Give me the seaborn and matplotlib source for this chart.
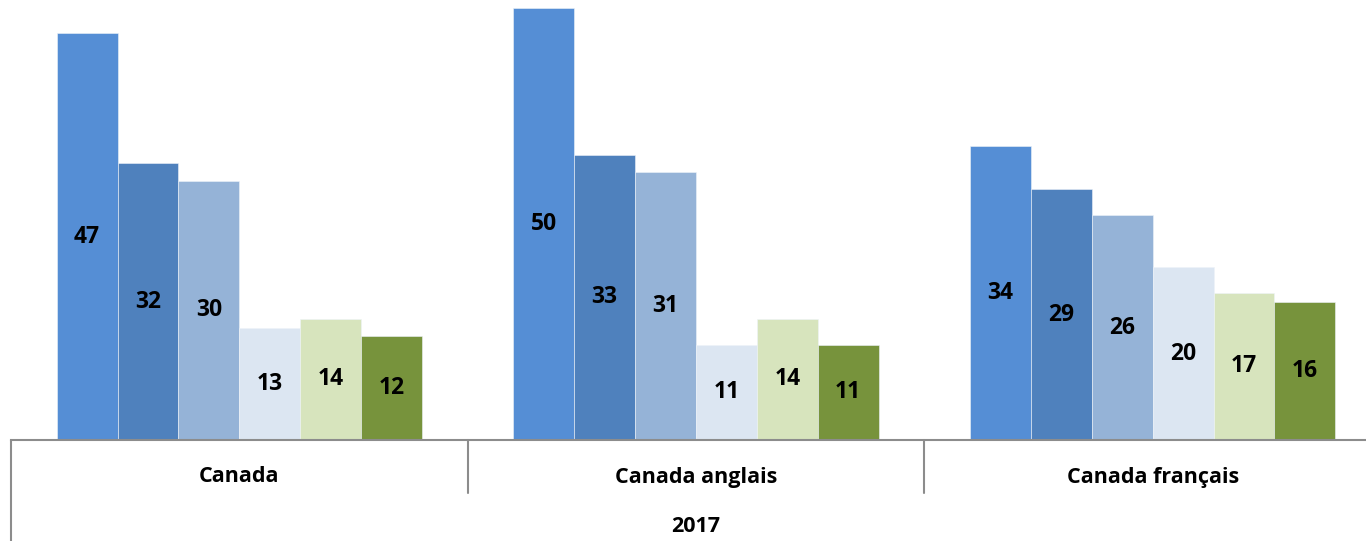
import pandas as pd
import numpy as np
import matplotlib.pyplot as plt
import seaborn as sns

# data
groups = ['Canada', 'Canada anglais', 'Canada français']
series = ['Série 1', 'Série 2', 'Série 3', 'Série 4', 'Série 5', 'Série 6']
canada = [47, 32, 30, 13, 14, 12]
canada_anglais = [50, 33, 31, 11, 14, 11]
canada_francais = [34, 29, 26, 20, 17, 16]
year_label = '2017'

colors = ['#558ED5', '#4F81BD', '#95B3D7', '#DCE6F2', '#D7E4BD', '#77933C']

df = pd.DataFrame({
    'Groupe': np.repeat(groups, len(series)),
    'Série': series * len(groups),
    'Valeur': canada + canada_anglais + canada_francais,
})

sns.set_style('white')
plt.rcParams['font.family'] = ['Open Sans', 'DejaVu Sans']

fig = plt.figure(figsize=(13.66, 5.41), dpi=100)
# axes runs a bit past the right edge, like the cropped original
ax = fig.add_axes([11 / 1366, 101 / 541, 1370 / 1366, 440 / 541])

sns.barplot(data=df, x='Groupe', y='Valeur', hue='Série', palette=colors,
            width=0.8, gap=0, saturation=1, legend=False, ax=ax,
            edgecolor='#eef3f9', linewidth=0.4)

for cont in ax.containers:
    for bar in cont:
        h = bar.get_height()
        ax.text(bar.get_x() + bar.get_width() / 2, h / 2, f'{h:.0f}',
                ha='center', va='center', fontsize=16.5, fontweight='bold',
                color='black')

ax.set_xlim(-0.5, 2.5)
ax.set_ylim(0, 440 / 8.65)
ax.set_xlabel('')
ax.set_ylabel('')
ax.set_xticks([])
ax.set_yticks([])
for s in ['left', 'top', 'right']:
    ax.spines[s].set_visible(False)
ax.spines['bottom'].set_color('#8c8c8c')
ax.spines['bottom'].set_linewidth(1.5)

# category axis frame below the bars
trans = ax.get_xaxis_transform()
px = 1 / 440  # one pixel in axes-y units
ax.plot([-0.5, -0.5], [0, -101 * px], color='#8c8c8c', lw=1.5,
        transform=trans, clip_on=False)
for xs in [0.5, 1.5]:
    ax.plot([xs, xs], [0, -53 * px], color='#8c8c8c', lw=1.5,
            transform=trans, clip_on=False)

for i, g in enumerate(groups):
    ax.text(i, -37 * px, g, transform=trans, ha='center', va='center',
            fontsize=15.5, fontweight='bold', color='black')
fig.text(696 / 1366, 14 / 541, year_label, ha='center', va='center',
         fontsize=15.5, fontweight='bold', color='black')

fig.savefig('out.png', dpi=100)
